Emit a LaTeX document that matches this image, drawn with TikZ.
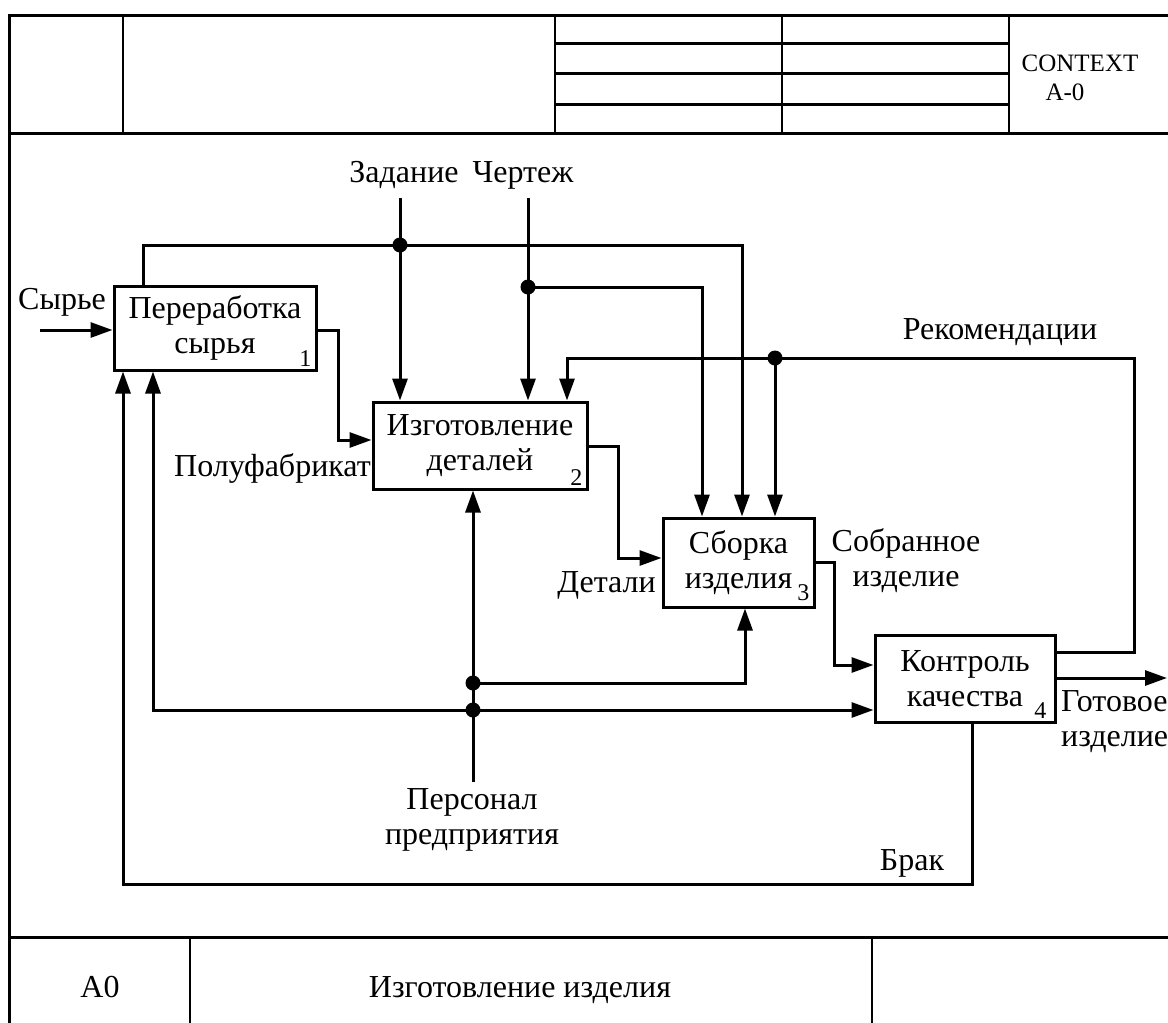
\documentclass[tikz,border=0pt]{standalone}
\usepackage{fontspec}
\setmainfont{Liberation Serif}
\usetikzlibrary{arrows.meta}

\begin{document}
\begin{tikzpicture}[
  x=1pt, y=-1pt,
  txt/.style={font=\fontsize{32}{35}\selectfont, inner sep=0pt},
  proc/.style={draw, line width=3pt, inner sep=0pt, align=center,
               font=\fontsize{32}{35}\selectfont},
  num/.style={font=\fontsize{24}{26}\selectfont, inner sep=0pt, anchor=south east},
  frame/.style={line width=3pt},
  thin frame/.style={line width=2.4pt},
  link/.style={line width=3pt},
  arr/.style={link, -{Triangle[length=22pt,width=15pt]}},
  dot/.style={fill=black}
]
\useasboundingbox (0,0) rectangle (1168,1023);

% ---------- form frame ----------
\draw[frame] (9,1040) -- (9,15) -- (1180,15);
\draw[frame] (9,133) -- (1180,133);
\draw[frame] (9,937) -- (1180,937);
\foreach \xx in {123,555,782,1009} \draw[thin frame] (\xx,15) -- (\xx,133);
\foreach \yy in {43,73,104} \draw[frame] (555,\yy) -- (1009,\yy);
\foreach \xx in {190,872} \draw[thin frame] (\xx,937) -- (\xx,1040);

\node[font=\fontsize{25}{28}\selectfont, inner sep=0pt] (ctx) at (1080,63) {CONTEXT};
\node[font=\fontsize{25}{28}\selectfont, inner sep=0pt] (ctxid) at (1065,92) {A-0};
\node[txt, anchor=base] (nodeid) at (100,997) {A0};
\node[txt, anchor=base] (title) at (520,997) {Изготовление изделия};

% ---------- activity boxes ----------
\node[proc, minimum width=202pt, minimum height=84pt] (b1) at (215,328) {Переработка\\сырья};
\node[proc, minimum width=214pt, minimum height=87pt] (b2) at (480,445.5) {Изготовление\\деталей};
\node[proc, minimum width=151pt, minimum height=89pt] (b3) at (738.5,562.5) {Сборка\\изделия};
\node[proc, minimum width=180pt, minimum height=87pt] (b4) at (965,678.5) {Контроль\\качества};

\node[num] (n1) at ([shift={(-6,-5)}]b1.south east) {1};
\node[num] (n2) at ([shift={(-6,-5)}]b2.south east) {2};
\node[num] (n3) at ([shift={(-6,-8)}]b3.south east) {3};
\node[num] (n4) at ([shift={(-10,-5)}]b4.south east) {4};

% ---------- routing points ----------
\coordinate (syr) at (40,330);
\coordinate (tl) at (143,245);
\coordinate (tr) at (742,245);
\coordinate (zad) at (400,198);
\coordinate (cher) at (528,198);
\coordinate (chd) at (528,287);
\coordinate (chr) at (702,287);
\coordinate (rko) at (1134,652);
\coordinate (rkt) at (1134,358);
\coordinate (rkl) at (567,358);
\coordinate (rkd) at (775,358);
\coordinate (pf1) at (338,330);
\coordinate (pf2) at (338,440);
\coordinate (dt1) at (618,446);
\coordinate (dt2) at (618,558);
\coordinate (sb1) at (834,562);
\coordinate (sb2) at (834,665);
\coordinate (gt) at (1167,678);
\coordinate (pers) at (473,782);
\coordinate (pd1) at (473,683);
\coordinate (pd2) at (473,710);
\coordinate (pr3) at (745,683);
\coordinate (pl) at (153,710);
\coordinate (br1) at (972,884);
\coordinate (br2) at (123,884);

% ---------- connectors ----------
% input
\draw[arr] (syr) -- (syr -| b1.west);
% first stage output routed on to assembly
\draw[arr] (tl |- b1.north) -- (tl) -- (tr) -- (tr |- b3.north);
% controls
\draw[arr] (zad) -- (zad |- b2.north);
\draw[arr] (cher) -- (cher |- b2.north);
\draw[arr] (chd) -- (chr) -- (chr |- b3.north);
\draw[arr] (rko -| b4.east) -- (rko) -- (rkt) -- (rkl) -- (rkl |- b2.north);
\draw[arr] (rkd) -- (rkd |- b3.north);
% outputs to inputs
\draw[arr] (pf1 -| b1.east) -- (pf1) -- (pf2) -- (pf2 -| b2.west);
\draw[arr] (dt1 -| b2.east) -- (dt1) -- (dt2) -- (dt2 -| b3.west);
\draw[arr] (sb1 -| b3.east) -- (sb1) -- (sb2) -- (sb2 -| b4.west);
\draw[arr] (gt -| b4.east) -- (gt);
% mechanisms
\draw[arr] (pers) -- (pers |- b2.south);
\draw[arr] (pd1) -- (pr3) -- (pr3 |- b3.south);
\draw[arr] (pd2) -- (pd2 -| b4.west);
\draw[arr] (pd2) -- (pl) -- (pl |- b1.south);
% rejects
\draw[arr] (br1 |- b4.south) -- (br1) -- (br2) -- (br2 |- b1.south);

% junction dots
\fill[dot] (zad |- tl) circle (7.5pt);
\fill[dot] (chd) circle (7.5pt);
\fill[dot] (rkd) circle (7.5pt);
\fill[dot] (pd1) circle (7.5pt);
\fill[dot] (pd2) circle (7.5pt);

% ---------- labels ----------
\node[txt] (lsyr) at (62,302) {Сырье};
\node[txt] (lzad) at (404,175) {Задание};
\node[txt] (lcher) at (523,175) {Чертеж};
\node[txt] (lrek) at (1000,332) {Рекомендации};
\node[txt, anchor=east] (lpf) at (371,468) {Полуфабрикат};
\node[txt, anchor=east] (ldet) at (656,585) {Детали};
\node[txt, align=center] (lsob) at (906,561) {Собранное\\изделие};
\node[txt, align=left, anchor=west] (lgot) at (1061,722) {Готовое\\изделие};
\node[txt, align=center] (lpers) at (472,820) {Персонал\\предприятия};
\node[txt] (lbrak) at (912,863) {Брак};
\end{tikzpicture}
\end{document}
